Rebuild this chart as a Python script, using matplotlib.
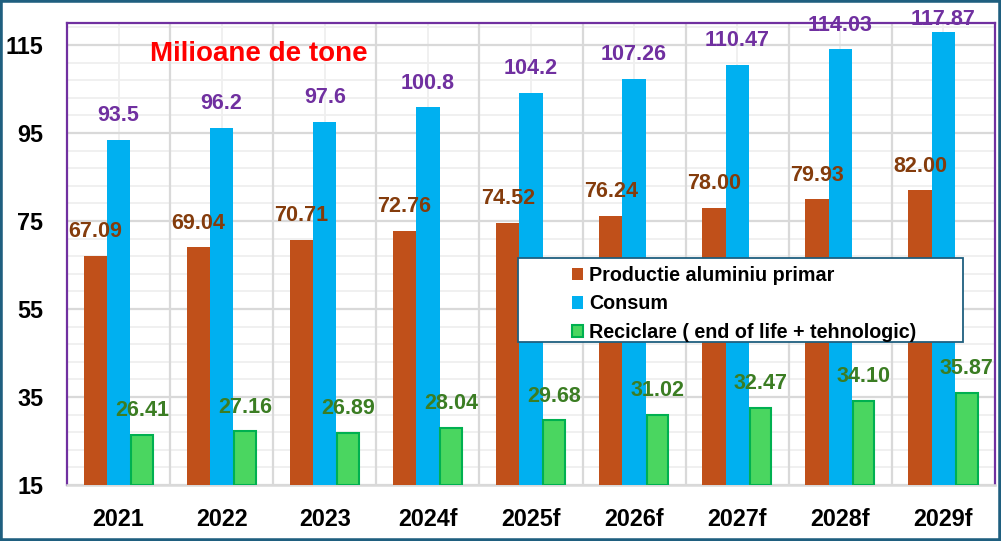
import numpy as np
import matplotlib
matplotlib.use("Agg")
import matplotlib.pyplot as plt
from matplotlib.patches import Patch, Rectangle

plt.rcParams['font.family'] = ['Liberation Sans', 'DejaVu Sans']

# data
years = ['2021', '2022', '2023', '2024f', '2025f', '2026f', '2027f', '2028f', '2029f']
productie = [67.09, 69.04, 70.71, 72.76, 74.52, 76.24, 78.00, 79.93, 82.00]
consum = [93.5, 96.2, 97.6, 100.8, 104.2, 107.26, 110.47, 114.03, 117.87]
reciclare = [26.41, 27.16, 26.89, 28.04, 29.68, 31.02, 32.47, 34.10, 35.87]

c_prod = '#C0501A'
c_cons = '#00B0F0'
c_rec = '#4AD660'
c_rec_edge = '#00B050'

W, H = 1001, 541
fig = plt.figure(figsize=(W / 100, H / 100), dpi=100)
ax = fig.add_axes([67 / W, 1 - 485 / H, (995 - 67) / W, (485 - 23) / H])

x = np.arange(len(years))
w = 0.226
ymin, ymax = 15, 120

ax.bar(x - w, [v - ymin for v in productie], w, bottom=ymin, color=c_prod, zorder=3)
ax.bar(x, [v - ymin for v in consum], w, bottom=ymin, color=c_cons, zorder=3)
ax.bar(x + w, [v - ymin for v in reciclare], w * 0.93, bottom=ymin, color=c_rec,
       edgecolor=c_rec_edge, linewidth=1.5, zorder=3)

def labels(offset, vals, texts, color):
    for xi, v, t in zip(x + offset, vals, texts):
        ax.text(xi, min(v + 5.5, 120.9), t, ha='center', va='center', color=color,
                fontsize=15.5, fontweight='bold', zorder=6, clip_on=False)

labels(-w, productie, [f'{v:.2f}' for v in productie], '#843C0C')
labels(0, consum, [f'{v:g}' for v in consum], '#7030A0')
labels(w, reciclare, [f'{v:.2f}' for v in reciclare], '#3B7D23')

ax.set_xlim(-0.5, len(years) - 0.5)
ax.set_ylim(ymin, ymax)

# gridlines
for yv in np.arange(ymin, ymax, 4):
    ax.axhline(yv, color='#EFEFEF', lw=1.3, zorder=0)
for yv in range(ymin, 116, 20):
    ax.axhline(yv, color='#D9D9D9', lw=1.6, zorder=1)
for xv in x:
    ax.axvline(xv, color='#EFEFEF', lw=1.3, zorder=0)
for xv in np.arange(0.5, len(years) - 0.5, 1):
    ax.axvline(xv, color='#D9D9D9', lw=1.6, zorder=1)

ax.set_yticks(range(ymin, 116, 20))
ax.set_xticks(x)
ax.set_xticklabels(years)
ax.tick_params(axis='both', length=0, labelsize=16.8)
ax.tick_params(axis='y', pad=17)
ax.tick_params(axis='x', pad=16.5)
for lab in ax.get_xticklabels() + ax.get_yticklabels():
    lab.set_fontweight('bold')

for s in ['left', 'top', 'right']:
    ax.spines[s].set_color('#7030A0')
    ax.spines[s].set_linewidth(1.6)
ax.spines['bottom'].set_color('#D9D9D9')
ax.spines['bottom'].set_linewidth(1.8)

fig.text(150 / W, 1 - 54 / H, 'Milioane de tone', color='#FF0000', fontsize=20,
         fontweight='bold', va='center', ha='left')

# legend box
box = Rectangle((518 / W, 1 - 342 / H), (963 - 518) / W, (342 - 258) / H,
                transform=fig.transFigure, facecolor='white', edgecolor='#1F5F7F',
                linewidth=1.3, zorder=7)
ax.add_artist(box)
box.set_clip_on(False)
handles = [Patch(facecolor=c_prod),
           Patch(facecolor=c_cons),
           Patch(facecolor=c_rec, edgecolor=c_rec_edge, linewidth=1.5)]
names = ['Productie aluminiu primar', 'Consum', 'Reciclare ( end of life + tehnologic)']
leg = ax.legend(handles, names, loc='upper left', bbox_to_anchor=(572 / W, 1 - 266 / H),
                bbox_transform=fig.transFigure, frameon=False, borderaxespad=0,
                borderpad=0, handlelength=0.57, handleheight=0.57, handletextpad=0.3,
                labelspacing=0.48, prop={'size': 14.2, 'weight': 'bold'})
leg.set_zorder(8)

# figure border
fig.patches.append(Rectangle((0, 0), 1, 1, transform=fig.transFigure, fill=False,
                             edgecolor='#1F5F7F', linewidth=4, zorder=10))

fig.savefig('out.png', dpi=100)
